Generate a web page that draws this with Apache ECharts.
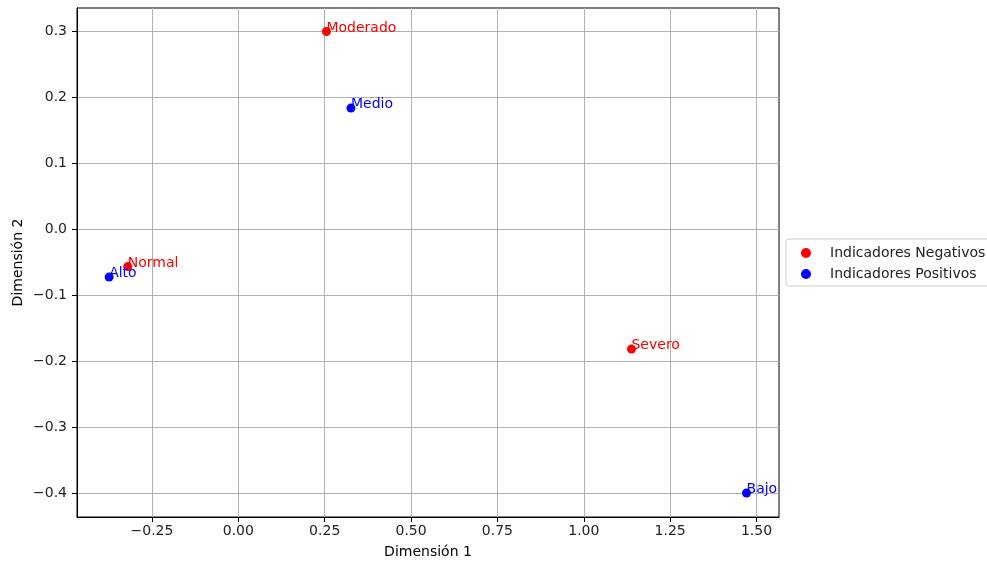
<!DOCTYPE html>
<html>
<head>
<meta charset="utf-8">
<script src="https://cdn.jsdelivr.net/npm/echarts@6/dist/echarts.min.js"></script>
<style>html,body{margin:0;padding:0;background:#fff}#c{width:987px;height:561px}</style>
</head>
<body>
<div id="c"></div>
<script>
const negNames = ['Moderado', 'Normal', 'Severo'];
const negX = [0.255, -0.320, 1.138];
const negY = [0.300, -0.056, -0.181];
const posNames = ['Medio', 'Alto', 'Bajo'];
const posX = [0.326, -0.374, 1.471];
const posY = [0.184, -0.072, -0.399];
const xTicks = [-0.25, 0, 0.25, 0.5, 0.75, 1.0, 1.25, 1.5];
const yTicks = [-0.4, -0.3, -0.2, -0.1, 0, 0.1, 0.2, 0.3];
const seriesNames = ['Indicadores Negativos', 'Indicadores Positivos'];

const FONT = 'DejaVu Sans';
const FS = 14;
const fmt = (d) => (v) => {
  const s = Math.abs(v).toFixed(d);
  return (v < -1e-9 ? '\u2212' : '') + s;
};
const pts = (names, xs, ys) => names.map((n, i) => ({ name: n, value: [xs[i], ys[i]] }));

const labelCfg = (color) => ({
  show: true,
  formatter: '{b}',
  position: [4.5, 8],
  align: 'left',
  verticalAlign: 'bottom',
  color: color,
  fontFamily: FONT,
  fontSize: FS
});

const chart = echarts.init(document.getElementById('c'));
chart.setOption({
  animation: false,
  backgroundColor: '#fff',
  grid: { left: 77, right: 208, top: 8, bottom: 44, outerBoundsMode: 'none', containLabel: false,
    show: true, borderColor: '#000', borderWidth: 1, backgroundColor: 'transparent' },
  xAxis: {
    type: 'value', min: -0.467, max: 1.565,
    name: 'Dimensión 1', nameLocation: 'middle', nameGap: 28,
    nameTextStyle: { fontFamily: FONT, fontSize: FS, color: '#000' },
    axisLine: { show: true, onZero: false, lineStyle: { color: '#000', width: 1 } },
    axisTick: { show: true, length: 5, lineStyle: { color: '#000' }, customValues: xTicks },
    axisLabel: { customValues: xTicks, formatter: fmt(2), fontFamily: FONT, fontSize: FS, color: '#222', margin: 7 },
    splitLine: { show: true, lineStyle: { color: '#b0b0b0', width: 1 } }
  },
  yAxis: {
    type: 'value', min: -0.4353, max: 0.3356,
    name: 'Dimensión 2', nameLocation: 'middle', nameGap: 52, nameRotate: 90, nameMoveOverlap: false,
    nameTextStyle: { fontFamily: FONT, fontSize: FS, color: '#000' },
    axisLine: { show: true, onZero: false, lineStyle: { color: '#000', width: 1 } },
    axisTick: { show: true, length: 5, lineStyle: { color: '#000' }, customValues: yTicks },
    axisLabel: { customValues: yTicks, formatter: fmt(1), fontFamily: FONT, fontSize: FS, color: '#222', margin: 10 },
    splitLine: { show: true, lineStyle: { color: '#b0b0b0', width: 1 } }
  },
  legend: {
    orient: 'vertical', left: 786, top: 239,
    padding: [7, 14, 5, 15],
    itemWidth: 10, itemHeight: 10, itemGap: 7,
    borderColor: '#cccccc', borderWidth: 1, borderRadius: 3,
    backgroundColor: 'rgba(255,255,255,0.8)',
    textStyle: { fontFamily: FONT, fontSize: FS, color: '#222', padding: [0, 0, 0, 14] },
    data: [{ name: seriesNames[0], icon: 'circle' }, { name: seriesNames[1], icon: 'circle' }]
  },
  series: [
    { name: seriesNames[0], type: 'scatter', symbolSize: 9, itemStyle: { color: '#ff0000', opacity: 1 },
      data: pts(negNames, negX, negY), label: labelCfg('#ff0000'), z: 3 },
    { name: seriesNames[1], type: 'scatter', symbolSize: 9, itemStyle: { color: '#0000ff', opacity: 1 },
      data: pts(posNames, posX, posY), label: labelCfg('#0000ff'), z: 3 }
  ]
});
</script>
</body>
</html>
